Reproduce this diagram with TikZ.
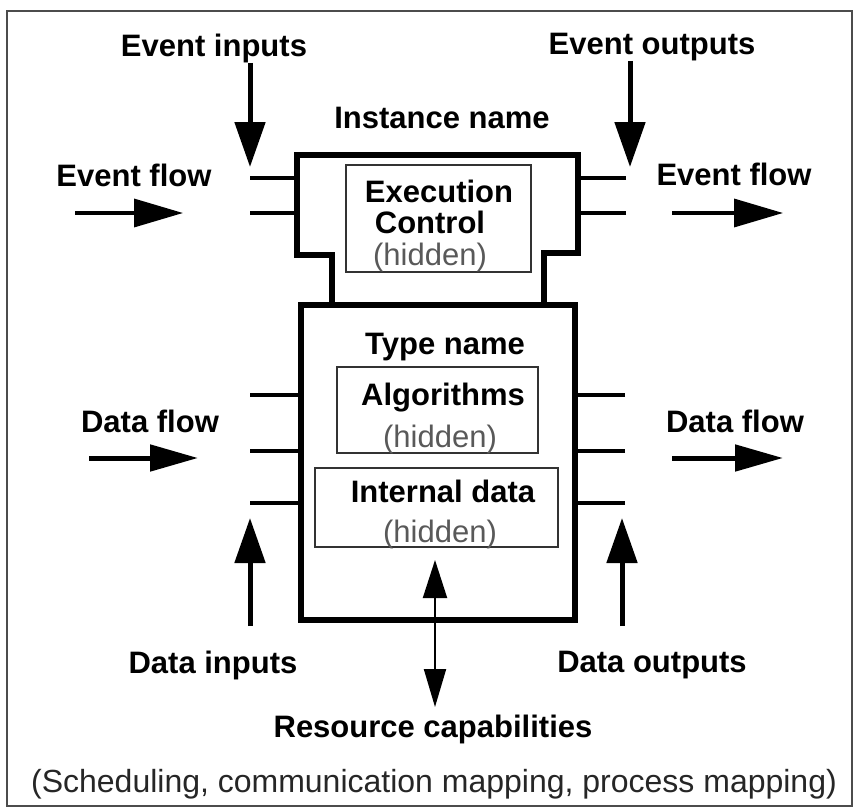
\documentclass[tikz,border=0pt]{standalone}
\usepackage{fontspec}
\setmainfont{Liberation Sans}
\usetikzlibrary{arrows.meta}
\begin{document}
\begin{tikzpicture}[x=1pt,y=-1pt,
  lbl/.style={font=\fontsize{31}{36}\selectfont\bfseries, inner sep=0pt, anchor=base, text=black},
  hid/.style={font=\fontsize{31}{36}\selectfont, inner sep=0pt, anchor=base, text=black!65},
  note/.style={font=\fontsize{32}{38}\selectfont, inner sep=0pt, anchor=base, text=black!85},
  frame/.style={draw=black!70, line width=2pt},
  blk/.style={draw=black, line width=5.5pt, line join=miter},
  inbox/.style={draw=black!80, line width=1.4pt},
  pinline/.style={draw=black, line width=4.5pt},
  bigarrow/.style={draw=black, line width=5pt, -{Triangle[length=45pt,width=30pt]}},
  evarrow/.style={draw=black, line width=3.5pt, -{Triangle[length=49pt,width=28pt]}},
  dtarrow/.style={draw=black, line width=5pt, -{Triangle[length=48pt,width=26pt]}},
  resarrow/.style={draw=black, line width=2pt, {Triangle[length=38pt,width=24pt]}-{Triangle[length=38pt,width=22pt]}}
]
\useasboundingbox (0,0) rectangle (854,808);
\fill[white] (0,0) rectangle (854,808);

% outer frame
\draw[frame] (7,11) rectangle (852,806);

% function block body: event head and data body
\draw[blk] (332,305) -- (332,255) -- (297,255) -- (297,155) -- (578,155)
  -- (578,253) -- (544,253) -- (544,305);
\draw[blk] (301,305) rectangle (575,620);

% hidden internals
\draw[inbox] (346,165) rectangle (531,272);
\draw[inbox] (337,367) rectangle (538,453);
\draw[inbox] (315,468) rectangle (558,547);

% pin coordinates
\coordinate (eL1) at (250,178); \coordinate (eL1b) at (297,178);
\coordinate (eL2) at (250,213); \coordinate (eL2b) at (297,213);
\coordinate (eR1) at (626,178); \coordinate (eR1b) at (578,178);
\coordinate (eR2) at (626,213); \coordinate (eR2b) at (578,213);
\coordinate (dL1) at (250,395); \coordinate (dL1b) at (301,395);
\coordinate (dL2) at (250,451); \coordinate (dL2b) at (301,451);
\coordinate (dL3) at (250,503); \coordinate (dL3b) at (301,503);
\coordinate (dR1) at (625,395); \coordinate (dR1b) at (575,395);
\coordinate (dR2) at (625,451); \coordinate (dR2b) at (575,451);
\coordinate (dR3) at (625,503); \coordinate (dR3b) at (575,503);

\draw[pinline] (eL1) -- (eL1b);
\draw[pinline,line width=3.8pt] (eL2) -- (eL2b);
\draw[pinline] (eR1) -- (eR1b);
\draw[pinline,line width=3.8pt] (eR2) -- (eR2b);
\draw[pinline] (dL1) -- (dL1b);
\draw[pinline] (dL2) -- (dL2b);
\draw[pinline] (dL3) -- (dL3b);
\draw[pinline] (dR1) -- (dR1b);
\draw[pinline] (dR2) -- (dR2b);
\draw[pinline] (dR3) -- (dR3b);

% arrow end points
\coordinate (eiA) at (250,63);  \coordinate (eiB) at (250,167);
\coordinate (eoA) at (630,61);  \coordinate (eoB) at (630,167);
\coordinate (efLA) at (75,213); \coordinate (efLB) at (183,213);
\coordinate (efRA) at (672,213); \coordinate (efRB) at (783,213);
\coordinate (dfLA) at (89,458); \coordinate (dfLB) at (198,458);
\coordinate (dfRA) at (672,458); \coordinate (dfRB) at (783,458);
\coordinate (diA) at (250,626); \coordinate (diB) at (250,518);
\coordinate (doA) at (622,626); \coordinate (doB) at (622,518);
\coordinate (rcA) at (435,560); \coordinate (rcB) at (435,707);

\draw[bigarrow] (eiA) -- (eiB);
\draw[bigarrow] (eoA) -- (eoB);
\draw[evarrow] (efLA) -- (efLB);
\draw[evarrow] (efRA) -- (efRB);
\draw[dtarrow] (dfLA) -- (dfLB);
\draw[dtarrow] (dfRA) -- (dfRB);
\draw[bigarrow] (diA) -- (diB);
\draw[bigarrow] (doA) -- (doB);
\draw[resarrow] (rcA) -- (rcB);

% labels
\node[lbl] (tEI) at (214,57) {Event inputs};
\node[lbl] (tEO) at (652,55) {Event outputs};
\node[lbl] (tIN) at (442,128) {Instance name};
\node[lbl] (tEFL) at (134,186) {Event flow};
\node[lbl] (tEFR) at (734,185) {Event flow};
\node[lbl] (tEx) at (439,202) {Execution};
\node[lbl] (tCo) at (430,233) {Control};
\node[hid] (tH1) at (430,265) {(hidden)};
\node[lbl] (tTN) at (445,354) {Type name};
\node[lbl] (tAl) at (443,405) {Algorithms};
\node[hid] (tH2) at (440,447) {(hidden)};
\node[lbl] (tID) at (443,502) {Internal data};
\node[hid] (tH3) at (440,542) {(hidden)};
\node[lbl] (tDFL) at (150,432) {Data flow};
\node[lbl] (tDFR) at (735,432) {Data flow};
\node[lbl] (tDI) at (213,673) {Data inputs};
\node[lbl] (tDO) at (652,672) {Data outputs};
\node[lbl] (tRC) at (433,737) {Resource capabilities};
\node[note] (tSC) at (434,792) {(Scheduling, communication mapping, process mapping)};
\end{tikzpicture}
\end{document}
